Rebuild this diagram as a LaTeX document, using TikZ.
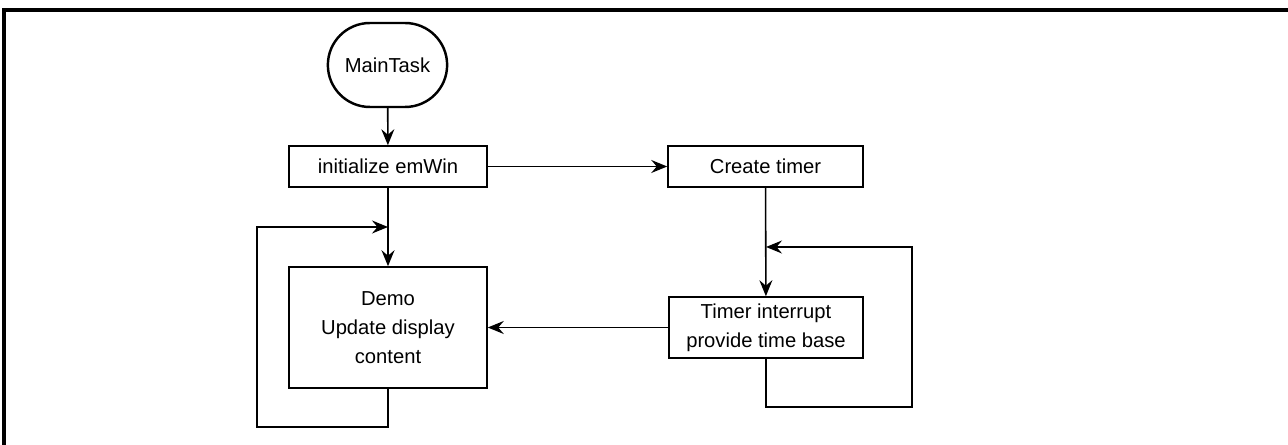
\documentclass[tikz,border=0pt]{standalone}
\usepackage{fontspec}
\setmainfont{Liberation Sans}
\usetikzlibrary{positioning}
\usetikzlibrary{arrows.meta}
\usetikzlibrary{shapes.misc}

\tikzset{
	procbox/.style={draw, line width=0.9pt, align=center, inner sep=2pt,
		font=\fontsize{11.5}{16.5}\selectfont},
	startbox/.style={draw, rounded rectangle, line width=1.4pt,
		minimum width=2.62cm, minimum height=1.68cm,
		font=\fontsize{11.5}{16.5}\selectfont},
	flow/.style={line width=0.9pt, -{Stealth[length=3.2mm, width=2.6mm, inset=1.1mm]}}
}

\begin{document}
\begin{tikzpicture}[x=0.02cm, y=-0.02cm]
					\useasboundingbox (0,0) rectangle (1288,445);
					\draw[line width=2.2pt] (4,445) -- (4,10) -- (1288,10);
					% left column
					\node[startbox] (main) at (387.5,65) {MainTask};
					\node[procbox, minimum width=3.96cm, minimum height=0.82cm] (init) at (388,166.5) {initialize emWin};
					\node[procbox, minimum width=3.96cm, minimum height=2.42cm] (demo) at (388,327.5) {Demo\\Update display\\content};
					% right column
					\node[procbox, minimum width=3.9cm, minimum height=0.82cm] (timer) at (765.5,166.5) {Create timer};
					\node[procbox, minimum width=3.88cm, minimum height=1.22cm] (irq) at (766,327.5) {Timer interrupt\\provide time base};
					% loop corners
					\coordinate (demoloop) at (257,427);
					\coordinate (demojoin) at (388,227);
					\coordinate (irqloop) at (912,407);
					\coordinate (irqjoin) at (766,247);
					\draw[flow] (main) -- (init);
					\draw[flow] (init) -- (timer);
					\draw[flow] (init) -- (demo);
					\draw[flow] (timer) -- (irq);
					\draw[flow] (irq) -- (demo);
					\draw[flow] (demo.south) |- (demoloop) |- (demojoin);
					\draw[flow] (irq.south) |- (irqloop) |- (irqjoin);
				\end{tikzpicture}
\end{document}
